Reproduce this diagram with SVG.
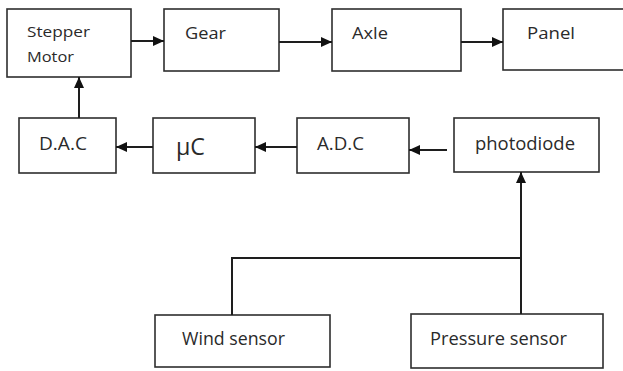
<svg xmlns="http://www.w3.org/2000/svg" width="623" height="371" viewBox="0 0 623 371">
<style>
.box{fill:#fff;stroke:#2e2e2e;stroke-width:1.6}
.lbl{font-family:"Open Sans","Liberation Sans",sans-serif;fill:#2a2a2a}
.con{fill:none;stroke:#1e1e1e;stroke-width:2}
</style>
<defs>
<marker id="ah" markerUnits="userSpaceOnUse" markerWidth="11" markerHeight="10" refX="11" refY="5" orient="auto">
<path d="M0,0 L11,5 L0,10 z" fill="#111"/>
</marker>
</defs>
<rect width="623" height="371" fill="#fff"/>
<g id="stepper"><rect class="box" x="7" y="9" width="124" height="68"/><text class="lbl" x="27" y="37" font-size="15" textLength="63" lengthAdjust="spacingAndGlyphs">Stepper</text><text class="lbl" x="27" y="62" font-size="15" textLength="47" lengthAdjust="spacingAndGlyphs">Motor</text></g>
<g id="gear"><rect class="box" x="164" y="9" width="115" height="62"/><text class="lbl" x="185" y="39" font-size="17" textLength="41" lengthAdjust="spacingAndGlyphs">Gear</text></g>
<g id="axle"><rect class="box" x="332" y="9" width="129" height="62"/><text class="lbl" x="352" y="39" font-size="17" textLength="36" lengthAdjust="spacingAndGlyphs">Axle</text></g>
<g id="panel"><rect class="box" x="503" y="9" width="130" height="61"/><text class="lbl" x="527" y="39" font-size="17" textLength="48" lengthAdjust="spacingAndGlyphs">Panel</text></g>
<g id="dac"><rect class="box" x="19" y="118" width="97" height="55"/><text class="lbl" x="39" y="150" font-size="18" textLength="48" lengthAdjust="spacingAndGlyphs">D.A.C</text></g>
<g id="uc"><rect class="box" x="153" y="118" width="102" height="55"/><text class="lbl" x="176" y="155" font-size="24" textLength="29" lengthAdjust="spacingAndGlyphs">μC</text></g>
<g id="adc"><rect class="box" x="297" y="118" width="112" height="55"/><text class="lbl" x="317" y="150" font-size="18" textLength="47" lengthAdjust="spacingAndGlyphs">A.D.C</text></g>
<g id="photodiode"><rect class="box" x="454" y="118" width="145" height="54"/><text class="lbl" x="475" y="150" font-size="18" textLength="100" lengthAdjust="spacingAndGlyphs">photodiode</text></g>
<g id="wind"><rect class="box" x="155" y="315" width="175" height="52"/><text class="lbl" x="182" y="345" font-size="18" textLength="103" lengthAdjust="spacingAndGlyphs">Wind sensor</text></g>
<g id="pressure"><rect class="box" x="411" y="314" width="192" height="54"/><text class="lbl" x="430" y="345" font-size="18" textLength="137" lengthAdjust="spacingAndGlyphs">Pressure sensor</text></g>
<g id="connectors">
<path class="con" d="M131 41 H164" marker-end="url(#ah)"/>
<path class="con" d="M279 42 H332" marker-end="url(#ah)"/>
<path class="con" d="M461 42 H503" marker-end="url(#ah)"/>
<path class="con" d="M79 118 V77" marker-end="url(#ah)"/>
<path class="con" d="M153 147 H116" marker-end="url(#ah)"/>
<path class="con" d="M297 147 H255" marker-end="url(#ah)"/>
<path class="con" d="M447 150 H409" marker-end="url(#ah)"/>
<path class="con" d="M521 314 V172" marker-end="url(#ah)"/>
<path class="con" d="M232 315 V258 H521" stroke-width="1.6"/>
</g>
</svg>
